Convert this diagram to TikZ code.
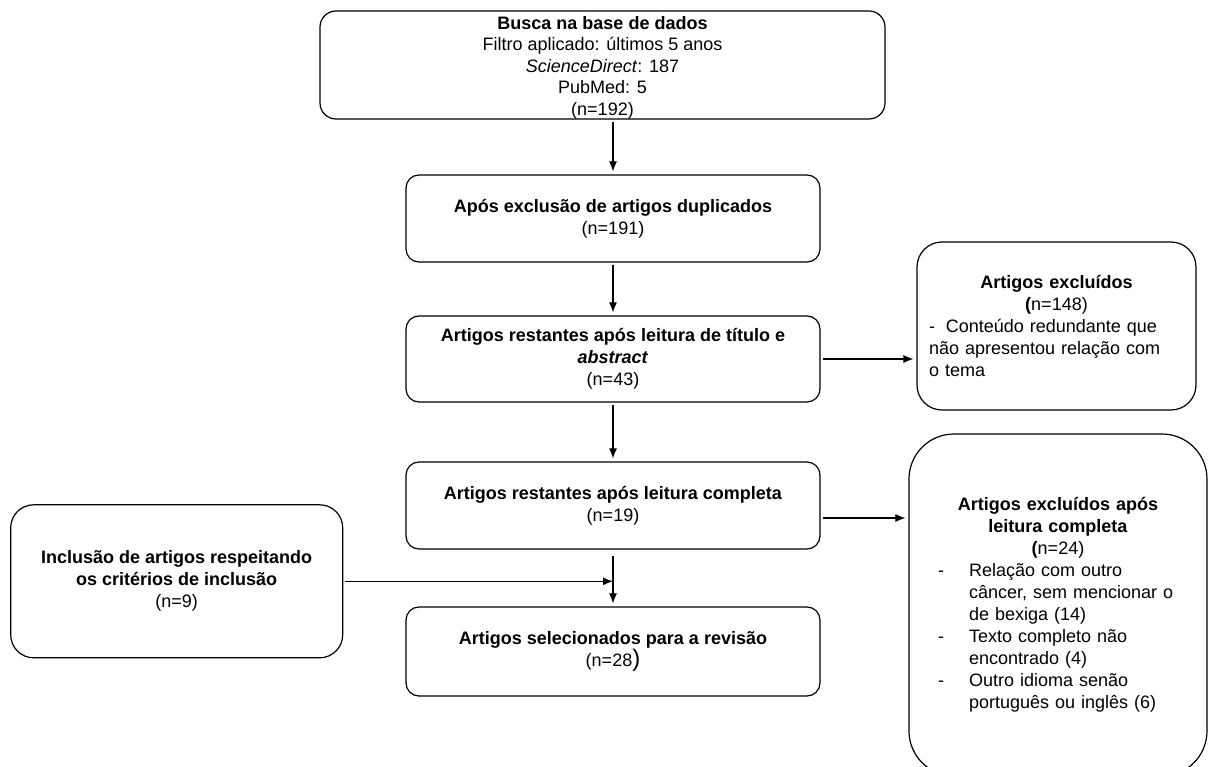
\documentclass[tikz,border=0pt]{standalone}
\usepackage{fontspec}
\setmainfont{Liberation Sans}
\usetikzlibrary{arrows.meta}

\begin{document}
\begin{tikzpicture}[x=1pt,y=-1pt,
  caixa/.style={draw,line width=1.2pt,align=center,inner sep=0pt,
    font=\fontsize{18}{22}\selectfont},
  texto/.style={align=center,inner sep=0pt,font=\fontsize{18}{21.5}\selectfont},
  seta/.style={line width=1.1pt,-{Latex[length=10pt,width=8pt]},
    shorten >=3pt,shorten <=2pt}]
  \useasboundingbox (0,0) rectangle (1208,767);
  \clip (0,0) rectangle (1208,767);
  % coluna central
  \node[caixa,rounded corners=16pt,minimum width=565pt,minimum height=108pt] (busca) at (602.5,65) {};
  \node[texto] (buscatexto) at (602.5,67.5)
    {\textbf{Busca na base de dados}\\ Filtro aplicado: últimos 5 anos\\ \textit{ScienceDirect}: 187\\ PubMed: 5\\ (n=192)};
  \node[caixa,rounded corners=13pt,minimum width=414pt,minimum height=87pt] (duplic) at (613,218.5)
    {\textbf{Após exclusão de artigos duplicados}\\ (n=191)};
  \node[caixa,rounded corners=13pt,minimum width=414pt,minimum height=86pt] (titulo) at (613,359)
    {\textbf{Artigos restantes após leitura de título e}\\ \textbf{\textit{abstract}}\\ (n=43)};
  \node[caixa,rounded corners=13pt,minimum width=414pt,minimum height=87pt] (completa) at (613,505.5)
    {\textbf{Artigos restantes após leitura completa}\\ (n=19)};
  \node[caixa,rounded corners=13pt,minimum width=414pt,minimum height=89pt] (selec) at (613,651.5)
    {\textbf{Artigos selecionados para a revisão}\\ (n=28{\fontsize{24}{24}\selectfont)}};
  % inclusao manual
  \node[caixa,rounded corners=23pt,minimum width=332pt,minimum height=153pt] (inclusao) at (176.7,581.3)
    {\textbf{Inclusão de artigos respeitando}\\ \textbf{os critérios de inclusão}\\ (n=9)};
  % exclusoes
  \node[caixa,align=left,text width=255pt,rounded corners=25pt,minimum width=279pt,minimum height=168pt] (excl1) at (1056.5,326)
    {{\centering\textbf{Artigos excluídos}\\ \textbf{(}n=148)\par}
     -\hspace{0.6em}Conteúdo redundante que\\ não apresentou relação com\\ o tema};
  \node[caixa,align=left,text width=240pt,rounded corners=45pt,minimum width=298pt,minimum height=342pt] (excl2) at (1058,605)
    {{\centering\textbf{Artigos excluídos após}\\ \textbf{leitura completa}\\ \textbf{(}n=24)\par}
     \makebox[31pt][l]{-}Relação com outro\\
     \hspace*{31pt}câncer, sem mencionar o\\
     \hspace*{31pt}de bexiga (14)\\
     \makebox[31pt][l]{-}Texto completo não\\
     \hspace*{31pt}encontrado (4)\\
     \makebox[31pt][l]{-}Outro idioma senão\\
     \hspace*{31pt}português ou inglês (6)};
  % setas
  \draw[seta] (busca.south -| duplic.north) -- (duplic.north);
  \draw[seta] (duplic) -- (titulo);
  \draw[seta] (titulo.east) -- (titulo.east -| excl1.west);
  \draw[seta] (titulo) -- (completa);
  \draw[seta] ([yshift=-12.5pt]completa.east) -- ([yshift=-12.5pt]completa.east -| excl2.west);
  \draw[seta,shorten <=6pt] (completa) -- (selec);
  \draw[seta,shorten >=0pt] (inclusao.east) -- (inclusao.east -| selec.north);
\end{tikzpicture}
\end{document}
